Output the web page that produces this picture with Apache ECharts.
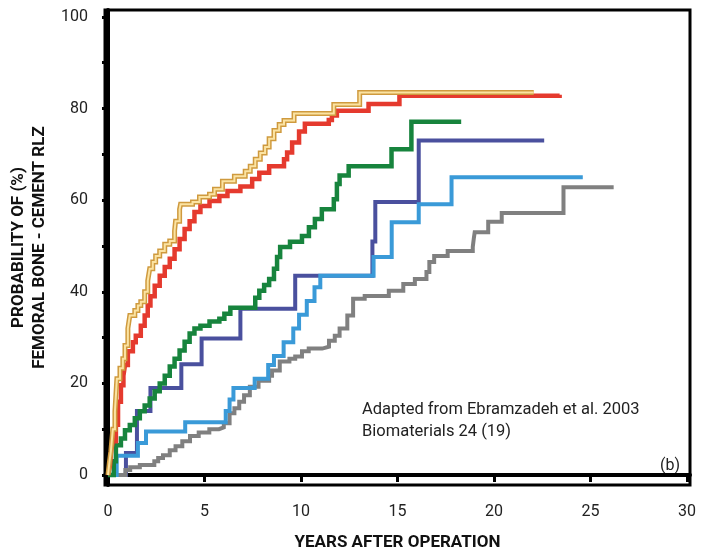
<!DOCTYPE html>
<html>
<head>
<meta charset="utf-8">
<script src="https://cdn.jsdelivr.net/npm/echarts@6/dist/echarts.min.js"></script>
<style>html,body{margin:0;padding:0;background:#fff}#c{width:708px;height:556px}</style>
</head>
<body>
<div id="c"></div>
<script>
// Kaplan-Meier style step curves: [years, probability %]
const navyData = [[0,0],[0.93,4.8],[1.5,14],[2.2,19],[3.8,24.2],[4.85,29.8],[6.86,36.3],[9.7,43.5],[13.7,51],[13.85,59.6],[16.1,73],[22.6,73]];
const grayData = [[0,0],[0.9,1.1],[1.15,1.7],[1.65,2.2],[2.4,3],[2.6,3.7],[2.85,4.3],[3.2,5.4],[3.5,6.3],[3.85,7.4],[4.25,8.5],[4.7,9.3],[5.25,10],[5.75,10.4],[6.0,11.3],[6.3,13.5],[6.55,14.6],[6.8,16],[7.05,17.4],[7.35,19.3],[7.8,20.6],[8.35,21.7],[8.5,22.8],[8.9,24.8],[9.4,25.4],[9.7,25.9],[10.05,27],[10.4,27.6],[11.1,28],[11.45,29.3],[11.75,30.4],[12.0,32],[12.4,34.8],[12.7,38.5],[13.3,39.1],[14.55,40.2],[15.3,41.7],[15.9,42.8],[16.5,44.3],[16.65,46.5],[16.9,47.8],[17.6,48.9],[18.9,49.8],[18.95,51.5],[19.0,53],[19.7,55.3],[20.4,57.2],[23.6,62.8],[26.2,62.8]];
const lightBlueData = [[0,0],[0.45,4.2],[1.55,7],[1.97,9.5],[4.0,11.5],[6.1,14],[6.3,16.5],[6.5,19],[7.6,21],[8.3,24],[8.6,26],[9.1,29],[9.6,32],[9.9,35],[10.3,38],[10.7,41],[11.0,43.5],[13.76,47.6],[14.7,55.2],[16.1,59.1],[17.8,65],[24.6,65]];
const greenData = [[0,0],[0.3,3],[0.41,6.5],[0.67,8],[0.88,9.8],[1.13,10.9],[1.39,12.4],[1.65,13.9],[1.9,15.2],[2.16,16.7],[2.42,18.3],[2.68,20],[2.94,21.7],[3.2,23.7],[3.45,25.4],[3.71,27.2],[3.97,29.1],[4.23,30.9],[4.48,32],[4.79,32.6],[5.26,33.5],[5.77,34.1],[6.03,35.2],[6.34,36.5],[7.63,38.7],[7.84,40.2],[8.09,41.5],[8.35,42.8],[8.6,45],[8.76,47.6],[8.92,49.8],[9.43,50.9],[10.05,52.2],[10.41,54.1],[10.72,55.9],[11.08,58],[11.7,60.2],[11.86,63.5],[12.0,65.4],[12.47,67.4],[14.69,71.1],[15.72,77.1],[18.3,77.1]];
const redData = [[0,0],[0.1,2],[0.17,5.4],[0.26,7.4],[0.41,11],[0.52,16],[0.67,19.6],[0.8,21.7],[0.88,24],[1.03,27],[1.29,29],[1.44,30.4],[1.7,32.6],[1.9,34.8],[2.06,37],[2.2,39],[2.42,41.3],[2.68,43.5],[2.94,45.4],[3.2,47.2],[3.45,49.3],[3.71,51.5],[3.97,53.7],[4.23,55.4],[4.48,57.4],[4.79,58.7],[5.26,59.8],[5.77,60.9],[6.19,62],[6.86,63],[7.47,64.6],[7.84,66],[8.35,67.4],[9.12,68.9],[9.28,70.4],[9.54,72.6],[9.9,75],[10.2,76.7],[11.44,77.5],[11.6,78.5],[11.86,79.5],[13.5,81],[15.1,82.8],[23.4,83]];
const yellowData = [[0,0],[0.08,3],[0.15,5.2],[0.25,10],[0.36,13.9],[0.46,21],[0.62,23.3],[0.77,25.4],[0.88,28.3],[1.03,32],[1.13,34.8],[1.39,35.9],[1.55,37],[1.7,37.8],[1.9,40],[2.06,42.4],[2.16,45],[2.32,46.5],[2.47,47.8],[2.68,48.9],[2.94,50.4],[3.2,51.1],[3.45,53.3],[3.5,55.4],[3.71,58],[3.76,59.1],[4.38,59.6],[4.74,60.7],[5.26,61.3],[5.52,62.4],[5.93,64.1],[6.55,65.2],[7.11,66.3],[7.37,67.4],[7.63,68.9],[7.89,70.3],[8.14,71.6],[8.35,73.4],[8.6,75.2],[8.87,76.5],[9.12,77.4],[9.64,78.9],[11.7,80.9],[13.04,83.5],[22.06,83.5]];

const xTicks = [0,5,10,15,20,25,30];
const yTicks = [0,10,20,30,40,50,60,70,80,90,100];
const yLabels = [0,20,40,60,80,100];

const xTitle = 'YEARS AFTER OPERATION';
const yTitle = 'PROBABILITY OF (%)\nFEMORAL BONE - CEMENT RLZ';
const noteLine1 = 'Adapted from Ebramzadeh et al. 2003';
const noteLine2 = 'Biomaterials 24 (19)';
const panelTag = '(b)';

const FONT = 'Roboto';

function stepSeries(data, color, width, z) {
  return {type:'line', data:data, step:'end', showSymbol:false, symbol:'none', z:z,
    lineStyle:{color:color, width:width, cap:'butt', join:'miter'}, animation:false, silent:true};
}

const chart = echarts.init(document.getElementById('c'), null, {renderer:'canvas'});
chart.setOption({
  backgroundColor:'#fff',
  animation:false,
  grid:{left:102, right:18, top:10, bottom:69, show:true, borderColor:'#000', borderWidth:3, backgroundColor:'transparent'},
  xAxis:{type:'value', min:-0.155, max:30.155,
    name:xTitle, nameLocation:'middle', nameGap:49,
    nameTextStyle:{fontFamily:FONT, fontWeight:'bold', fontSize:17, color:'#111'},
    axisLine:{show:true, lineStyle:{color:'#000', width:4}},
    axisTick:{show:true, length:7, inside:false, lineStyle:{color:'#000', width:3}, customValues:xTicks},
    axisLabel:{show:true, margin:19, fontFamily:FONT, fontSize:16, color:'#222', customValues:xTicks},
    splitLine:{show:false}},
  yAxis:{type:'value', min:-2.17, max:101.5,
    name:yTitle, nameLocation:'middle', nameGap:55, nameRotate:90,
    nameTextStyle:{fontFamily:FONT, fontWeight:'bold', fontSize:17, color:'#111', lineHeight:21, align:'center'},
    axisLine:{show:true, lineStyle:{color:'#000', width:4}},
    axisTick:{show:true, length:6, inside:false, lineStyle:{color:'#000', width:3}, customValues:yTicks},
    axisLabel:{show:true, margin:17, fontFamily:FONT, fontSize:16, color:'#222', customValues:yLabels},
    splitLine:{show:false}},
  series:[
    stepSeries(navyData, '#4a509e', 4, 2),
    stepSeries(grayData, '#808080', 4, 3),
    stepSeries(lightBlueData, '#3a9ad8', 4, 4),
    stepSeries(greenData, '#17843d', 4.5, 5),
    stepSeries(redData, '#e53a2e', 4.5, 6),
    stepSeries(yellowData, '#cf9a3e', 5, 7),
    stepSeries(yellowData, '#fbe3a2', 2, 8)
  ],
  graphic:[
    {type:'text', left:362, top:401, style:{text:noteLine1, font:'16.5px ' + FONT, fill:'#222'}},
    {type:'text', left:362, top:423, style:{text:noteLine2, font:'16.5px ' + FONT, fill:'#222'}},
    {type:'text', right:28, top:458, style:{text:panelTag, font:'16px ' + FONT, fill:'#222'}}
  ]
});
</script>
</body>
</html>
